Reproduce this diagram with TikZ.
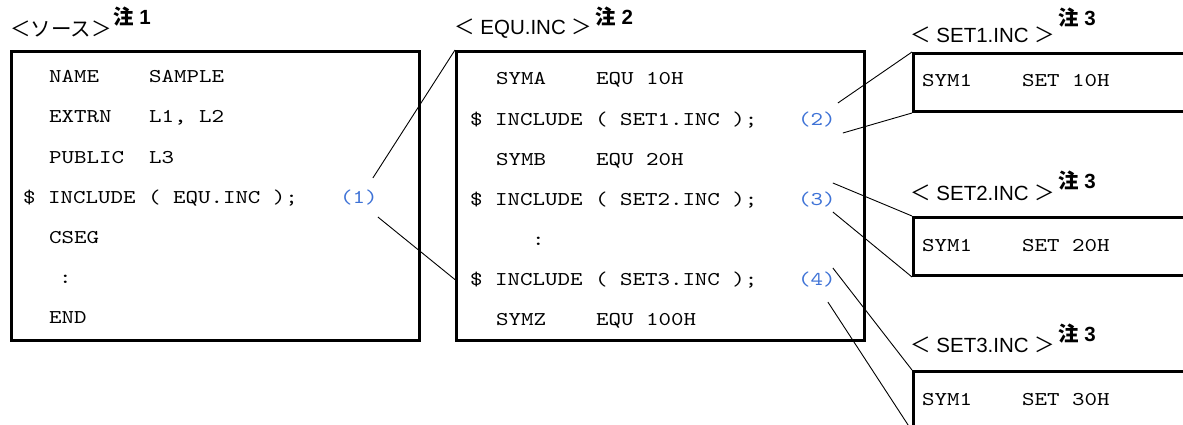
\documentclass[tikz,border=0pt]{standalone}
\usepackage{fontspec}
\setsansfont{Liberation Sans}
\newfontfamily\jpfont{Noto Sans CJK JP}
\newfontfamily\codefont{lmmono10-regular.otf}[FakeStretch=1.22]
\usetikzlibrary{calc}
\definecolor{includeBlue}{RGB}{62,114,214}
\newcommand{\openangle}{{\jpfont ＜}}
\newcommand{\closeangle}{{\jpfont ＞}}
\newcommand{\notemark}[1]{{\jpfont 注} #1}
\tikzset{
  file box/.style={draw=black,line width=3pt,anchor=north west,inner sep=0pt,minimum height=58pt},
  big box/.style={file box,minimum width=408pt,minimum height=289pt},
  file title/.style={anchor=base west,inner sep=0pt,font=\fontsize{20.5}{23}\selectfont\sffamily},
  note mark/.style={anchor=base west,inner sep=0pt,font=\fontsize{20.5}{23}\selectfont\sffamily\bfseries},
  code line/.style={anchor=base west,inner sep=0pt,font=\fontsize{19.5}{24}\selectfont\codefont},
  include num/.style={code line,text=includeBlue},
  include link/.style={draw=black,line width=0.9pt}
}
\begin{document}
\begin{tikzpicture}[x=1pt,y=-1pt]
  \useasboundingbox (0,0) rectangle (1183,425);
  \clip (0,0) rectangle (1183,425);
  % file boxes
  \node[big box] (source) at (10,50) {};
  \node[big box] (equ) at (455,50) {};
  \node[file box,minimum width=300pt] (set1) at (912,52) {};
  \node[file box,minimum width=300pt] (set2) at (912,216) {};
  \node[file box,minimum width=300pt] (set3) at (912,370) {};
  % titles
  \node[file title] (srctitle) at (10,37) {\jpfont ＜ソース＞};
  \node[note mark] (srcnote) at ($(srctitle.base east)+(1,-12)$) {\notemark{1}};
  \node[file title] (equtitle) at (454,35) {\openangle{} EQU.INC \closeangle};
  \node[note mark] (equnote) at ($(equtitle.base east)+(3,-10)$) {\notemark{2}};
  \node[file title] (set1title) at (910,43) {\openangle{} SET1.INC \closeangle};
  \node[note mark] (set1note) at ($(set1title.base east)+(3,-17)$) {\notemark{3}};
  \node[file title] (set2title) at (910,200) {\openangle{} SET2.INC \closeangle};
  \node[note mark] (set2note) at ($(set2title.base east)+(3,-12)$) {\notemark{3}};
  \node[file title] (set3title) at (910,352) {\openangle{} SET3.INC \closeangle};
  \node[note mark] (set3note) at ($(set3title.base east)+(3,-11)$) {\notemark{3}};
  % source listing
  \node[code line] (srcname) at (49,83) {NAME~~~~SAMPLE};
  \node[code line] (srcextrn) at (49,123) {EXTRN~~~L1,~L2};
  \node[code line] (srcpublic) at (49,163) {PUBLIC~~L3};
  \node[code line] (inc0) at (23,203) {\$~INCLUDE~(~EQU.INC~);};
  \node[code line] (srccseg) at (49,243) {CSEG};
  \node[code line] (srcdots) at (59,283) {:};
  \node[code line] (srcend) at (49,323) {END};
  \node[include num] (num1) at (340,203) {(1)};
  % EQU.INC listing
  \node[code line] (syma) at (496,85) {SYMA~~~~EQU~10H};
  \node[code line] (inc1) at (470,125) {\$~INCLUDE~(~SET1.INC~);};
  \node[code line] (symb) at (496,165) {SYMB~~~~EQU~20H};
  \node[code line] (inc2) at (470,205) {\$~INCLUDE~(~SET2.INC~);};
  \node[code line] (equdots) at (532,245) {:};
  \node[code line] (inc3) at (470,285) {\$~INCLUDE~(~SET3.INC~);};
  \node[code line] (symz) at (496,325) {SYMZ~~~~EQU~100H};
  \node[include num] (num2) at (798,125) {(2)};
  \node[include num] (num3) at (798,205) {(3)};
  \node[include num] (num4) at (798,285) {(4)};
  % SET*.INC listings
  \node[code line] (sym1a) at (922,87) {SYM1~~~~SET~10H};
  \node[code line] (sym1b) at (922,251) {SYM1~~~~SET~20H};
  \node[code line] (sym1c) at (922,405) {SYM1~~~~SET~30H};
  % include links
  \draw[include link] ($(num1.base east)+(-5,-25)$) -- (equ.north west);
  \draw[include link] ($(num1.base east)+(0,14)$) -- (equ.west |- inc3.center);
  \draw[include link] ($(num2.base east)+(2,-22)$) -- (set1.north west);
  \draw[include link] ($(num2.base east)+(7,8)$) -- (set1.south west);
  \draw[include link] ($(num3.base east)+(-3,-22)$) -- (set2.north west);
  \draw[include link] ($(num3.base east)+(-3,7)$) -- (set2.south west);
  \draw[include link] ($(num4.base east)+(-3,-17)$) -- (set3.north west);
  \draw[include link] ($(num4.base east)+(-8,17)$) -- (set3.south west);
\end{tikzpicture}
\end{document}
